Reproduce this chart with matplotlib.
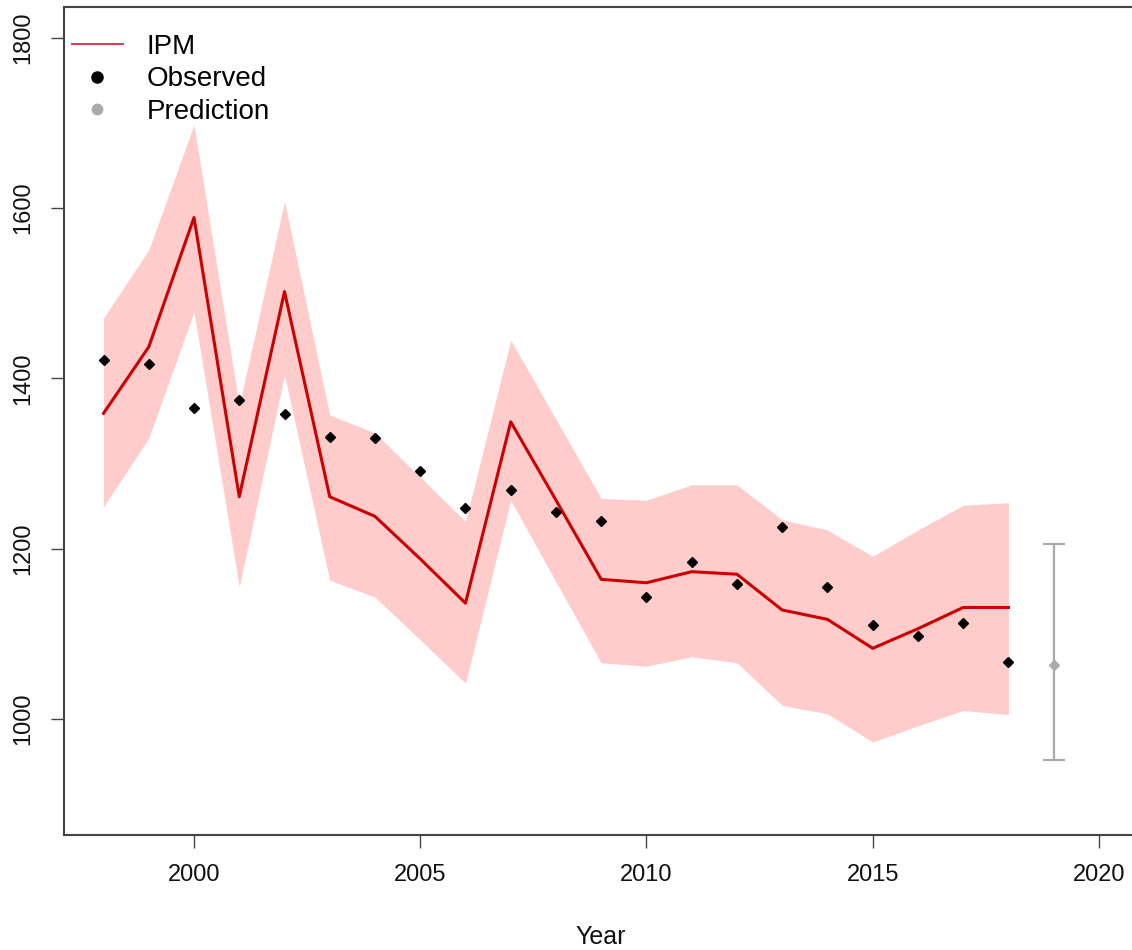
import matplotlib
matplotlib.use("Agg")
import matplotlib.pyplot as plt
import numpy as np
from matplotlib.lines import Line2D

plt.rcParams['font.family'] = ['Liberation Sans', 'DejaVu Sans']

# model fit (IPM) with its interval, observed counts, next-year prediction
years = np.arange(1998, 2019)
ipm = [1359, 1437, 1589, 1261, 1502, 1261, 1238, 1188, 1136, 1349, 1257,
       1164, 1160, 1173, 1170, 1128, 1117, 1083, 1106, 1131, 1131]
ipm_upper = [1471, 1551, 1698, 1368, 1608, 1357, 1336, 1284, 1232, 1445, 1352,
             1259, 1257, 1275, 1275, 1234, 1222, 1191, 1222, 1251, 1254]
ipm_lower = [1249, 1330, 1478, 1155, 1404, 1163, 1143, 1093, 1042, 1257, 1161,
             1066, 1062, 1073, 1066, 1016, 1006, 973, 992, 1010, 1005]
observed = [1422, 1417, 1365, 1375, 1358, 1331, 1330, 1291, 1248, 1269, 1243,
            1232, 1143, 1184, 1158, 1225, 1155, 1110, 1098, 1113, 1067]
pred_year = 2019
pred_mean = 1063
pred_low, pred_high = 952, 1206

fig = plt.figure(figsize=(11.32, 9.5), dpi=100)
ax = fig.add_axes([0.05627, 0.1213, 0.9497, 0.8711])

ax.fill_between(years, ipm_lower, ipm_upper, color='#ffcccc', linewidth=0, zorder=1)
ax.plot(years, ipm, color='#cc0000', lw=2.2, zorder=2)
ax.plot(years, observed, 'D', color='black', ms=5.5, zorder=3)
ax.errorbar([pred_year], [pred_mean],
            yerr=[[pred_mean - pred_low], [pred_high - pred_mean]],
            fmt='D', color='#aaaaaa', ms=5, elinewidth=1.6, capsize=8, capthick=1.6,
            zorder=3)

ax.set_xlim(1997.12, 2020.88)
ax.set_ylim(864, 1836)
ax.set_xticks([2000, 2005, 2010, 2015, 2020])
ax.set_yticks([1000, 1200, 1400, 1600, 1800])

for s in ax.spines.values():
    s.set_color('#444444')
    s.set_linewidth(1.5)
ax.tick_params(axis='both', length=9.4, width=1.0, color='#444444',
               labelsize=17, labelcolor='#111111')
ax.tick_params(axis='x', pad=12)
ax.tick_params(axis='y', pad=12, labelrotation=90)
for lab in ax.get_yticklabels():
    lab.set_va('center')

ax.set_xlabel('Year', fontsize=18, color='#111111', labelpad=28)

handles = [
    Line2D([], [], color='#d42a3a', lw=1.3),
    Line2D([], [], ls='none', marker='o', color='black', ms=8),
    Line2D([], [], ls='none', marker='o', color='#aaaaaa', ms=7.5),
]
ax.legend(handles, ['IPM', 'Observed', 'Prediction'], loc='upper left',
          bbox_to_anchor=(72 / 1132, 1 - 34 / 950), bbox_transform=fig.transFigure,
          frameon=False, fontsize=20, handlelength=1.83, handletextpad=0.86,
          borderpad=0, borderaxespad=0, labelspacing=0.23, numpoints=1)

fig.savefig('out.png', dpi=100)
